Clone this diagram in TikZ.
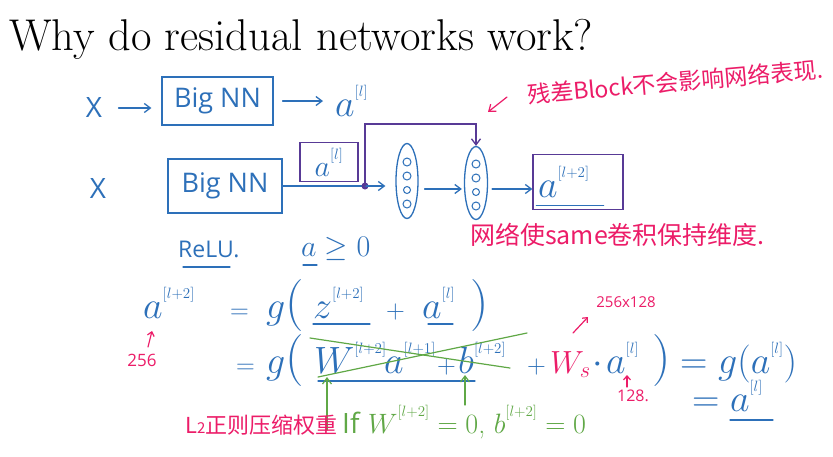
\RequirePackage{fix-cm}
\documentclass[tikz,border=0pt]{standalone}
\usepackage{amsmath}
\usepackage{fontspec}
\usetikzlibrary{arrows.meta,shapes.geometric}
\newfontfamily\hand{Open Sans}
\newfontfamily\cjk{Noto Sans CJK SC}
\definecolor{inkblue}{RGB}{45,112,185}
\definecolor{inkred}{RGB}{236,28,104}
\definecolor{inkgreen}{RGB}{96,168,70}
\definecolor{inkpurple}{RGB}{88,58,150}
\newcommand{\hw}{\fontsize{38}{40}\selectfont}
\newcommand{\lay}[1]{^{\raisebox{6pt}{\fontsize{15}{15}\selectfont$\medmuskip=0mu[#1]$}}}
\newcommand{\tall}[1]{{\fontsize{52}{54}\selectfont$#1$}}
\begin{document}
\begin{tikzpicture}[x=1pt,y=-1pt,
    pen/.style={draw=inkblue,line width=1.3pt,line cap=round},
    flow/.style={pen,-{Straight Barb[length=6pt,width=9pt]}},
    stroke/.style={line width=1.2pt,line cap=round},
    tick/.style={stroke,-{Straight Barb[length=4pt,width=7pt]}},
    nnbox/.style={pen,rectangle,minimum width=111pt,minimum height=48pt,
        text=inkblue,font=\hand\fontsize{27}{29}\selectfont},
    layer/.style={pen,ellipse,minimum width=22pt,minimum height=75pt,inner sep=0pt},
    actbox/.style={draw=inkpurple,line width=1.3pt,text=inkblue},
    eqn/.style={anchor=base west,inner sep=0pt,text=inkblue,font=\hw},
    small/.style={eqn,font=\fontsize{26}{28}\selectfont},
    note/.style={anchor=base west,inner sep=0pt,text=inkred,
        font=\cjk\fontsize{22}{24}\selectfont},
    inp/.style={text=inkblue,font=\hand\fontsize{28}{30}\selectfont}]
\useasboundingbox[fill=white] (0,0) rectangle (833,456);

\node[anchor=base west,inner sep=0pt,font=\fontsize{44.5}{48}\selectfont] (title) at (9,50)
    {Why do residual networks work?};

% plain network
\node[inp] (x1) at (94,108) {X};
\node[nnbox] (nn1) at (217.5,101) {Big NN};
\node[eqn] (a1) at (335,116) {$a\lay{l}$};
\draw[flow,shorten <=13pt,shorten >=10pt] (x1.east) -- (x1.east -| nn1.west);
\draw[flow,shorten <=9pt,shorten >=12pt] (nn1.east) -- (nn1.east -| a1.west);

% network with a residual block
\node[inp] (x2) at (98,188) {X};
\node[nnbox,minimum width=114pt,minimum height=54pt] (nn2) at (225,186) {Big NN};
\coordinate (split) at (365,186);
\node[layer] (h1) at (407,181) {};
\node[layer,minimum width=23pt,minimum height=73pt] (h2) at (476,183) {};
\node[actbox,minimum width=58pt,minimum height=39pt,font=\fontsize{30}{32}\selectfont]
    (al) at (329,162) {$a\lay{l}$};
\node[actbox,minimum width=90pt,minimum height=55pt,text width=80pt,align=left,font=\hw]
    (out) at (578,182) {$a\lay{l+2}$};
\foreach \n in {h1,h2}
    \foreach \dy/\r in {-19/4,-5/4,9/3.5,23/4}
        \draw[pen,line width=1pt] (\n) ++(0,\dy) circle[radius=\r];

\draw[pen] (nn2.east) -- (split);
\fill[inkpurple] (split) circle[radius=3.5];
\draw[flow,shorten >=10pt] (split) -- (split -| h1.west);
\draw[flow,shorten <=6pt,shorten >=2pt] ([yshift=-8pt]h1.east) -- ([yshift=-8pt]h1.east -| h2.west);
\draw[flow,shorten <=4pt] ([yshift=-6pt]h2.east) -- ([yshift=-6pt]h2.east -| out.west);
\draw[flow,draw=inkpurple] (split) -- ++(0,-62) -| (h2.north);
\draw[pen] ([xshift=4pt,yshift=5pt]out.south west) -- ([xshift=-20pt,yshift=5pt]out.south east);

% notes
\node[note,rotate=5,font=\cjk\fontsize{23}{25}\selectfont] (block) at (528,104) {残差Block不会影响网络表现.};
\draw[tick,inkred,-{Straight Barb[length=6pt,width=9pt]}] (507,97) -- (488,112);
\node[note,font=\cjk\fontsize{25}{27}\selectfont] (same) at (470,244) {网络使same卷积保持维度.};

\node[eqn,font=\hand\fontsize{23}{25}\selectfont] (relu) at (178,257) {ReLU.};
\draw[pen] (183,267) -- (230,267);
\node[eqn,font=\fontsize{30}{32}\selectfont] (nonneg) at (301,256) {$a\geq 0$};
\draw[pen] (303,265) -- (317,265);

% first line
\node[eqn] (lhs) at (143,318) {$a\lay{l+2}$};
\node[small] (eqa) at (230,318) {$=$};
\node[eqn] (ga) at (266,318) {$g$\tall{(}};
\node[eqn] (z) at (313,318) {$z\lay{l+2}$};
\node[small] (pa) at (386,318) {$+$};
\node[eqn] (al2) at (422,318) {$a\lay{l}$};
\node[eqn] (ca) at (470,318) {\tall{)}};
\draw[pen] (313,324) -- (370,324);
\draw[pen] (428,324) -- (453,324);
\node[text=inkred,font=\hand\fontsize{17}{18}\selectfont] (n256) at (142,360) {256};
\draw[tick,inkred] (148,347) -- (152,331);

% second line
\node[small] (eqb) at (236,373) {$=$};
\node[eqn] (gb) at (266,373) {$g$\tall{(}};
\node[eqn] (w2) at (314,373) {$W\lay{l+2}$};
\node[eqn] (a2) at (384,373) {$a\lay{l+1}$};
\node[small] (pb) at (437,373) {$+$};
\node[eqn] (b2) at (458,373) {$b\lay{l+2}$};
\node[small] (pc) at (527,373) {$+$};
\node[eqn,text=inkred,font=\fontsize{32}{34}\selectfont] (ws) at (550,373) {$W_s$};
\node[eqn] (dot) at (592,373) {$\cdot$};
\node[eqn] (a3) at (606,373) {$a\lay{l}$};
\node[eqn] (cb) at (652,373) {\tall{)}};
\node[eqn] (gal) at (680,373) {$=g(a\lay{l})$};
\node[eqn] (res) at (692,411) {$=a\lay{l}$};
\draw[pen] (730,420) -- (773,420);
\draw[pen] (318,381) -- (475,381);

\node[text=inkred,font=\hand\fontsize{15}{16}\selectfont] (n256x) at (626,302) {256x128};
\draw[tick,inkred] (573,333) -- (588,317);
\node[text=inkred,font=\hand\fontsize{16}{17}\selectfont] (n128) at (633,396) {128.};
\draw[tick,inkred] (627,387) -- (627,375);

% weight decay
\draw[stroke,inkgreen] (310,338) -- (510,368);
\draw[stroke,inkgreen] (318,377) -- (527,333);
\draw[tick,inkgreen,-{Straight Barb[length=6pt,width=9pt]}] (327,430) -- (327,377);
\draw[tick,inkgreen,-{Straight Barb[length=6pt,width=9pt]}] (465,405) -- (465,375);
\node[note] (l2) at (185,433) {L{\fontsize{15}{15}\selectfont 2}正则压缩权重};
\node[eqn,text=inkgreen,font=\fontsize{28}{30}\selectfont] (cond) at (342,433)
    {{\hand If}\ $W\lay{l+2}=0$,\ $b\lay{l+2}=0$};
\end{tikzpicture}
\end{document}
